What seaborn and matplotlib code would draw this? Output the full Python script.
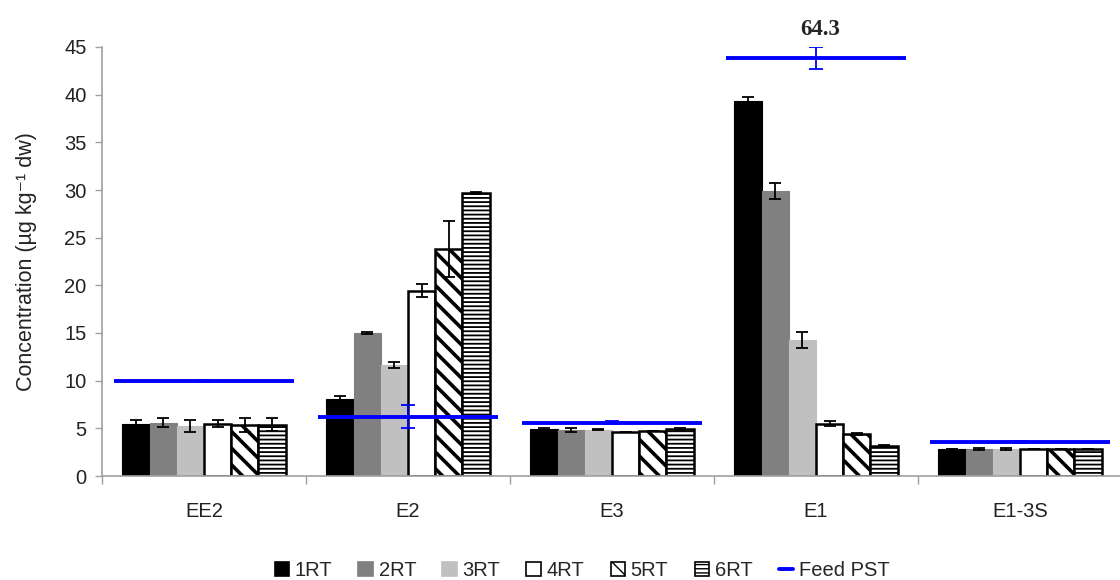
import numpy as np
import pandas as pd
import matplotlib
matplotlib.use("Agg")
import matplotlib.pyplot as plt
from matplotlib.patches import Patch
from matplotlib.lines import Line2D
from matplotlib.ticker import FixedLocator, MultipleLocator
import seaborn as sns

compounds = ["EE2", "E2", "E3", "E1", "E1-3S"]
runs = ["1RT", "2RT", "3RT", "4RT", "5RT", "6RT"]

# mean concentration for each run (1RT..6RT), per compound
ee2 = [5.45, 5.6, 5.25, 5.5, 5.35, 5.4]
e2 = [8.05, 15.0, 11.65, 19.45, 23.8, 29.7]
e3 = [4.9, 4.85, 4.85, 4.6, 4.75, 4.9]
e1 = [39.3, 29.9, 14.3, 5.5, 4.4, 3.15]
e1_3s = [2.85, 2.8, 2.8, 2.85, 2.85, 2.85]

# standard deviations, same layout
ee2_sd = [0.4, 0.5, 0.65, 0.35, 0.7, 0.7]
e2_sd = [0.3, 0.15, 0.35, 0.65, 2.9, 0.1]
e3_sd = [0.1, 0.2, 0.05, 0.0, 0.0, 0.15]
e1_sd = [0.5, 0.85, 0.85, 0.3, 0.1, 0.05]
e1_3s_sd = [0.0, 0.1, 0.1, 0.0, 0.0, 0.0]

# feed (primary settled) concentration per compound
feed = [10.0, 6.2, 5.6, 64.3, 3.55]
feed_sd = [0.1, 1.2, 0.15, 1.15, 0.1]

# values above this are drawn at the top of the axis and labelled
axis_cap = 43.8

means = [ee2, e2, e3, e1, e1_3s]
sds = [ee2_sd, e2_sd, e3_sd, e1_sd, e1_3s_sd]

df = pd.DataFrame(
    [(c, r, means[i][j], sds[i][j])
     for i, c in enumerate(compounds) for j, r in enumerate(runs)],
    columns=["compound", "run", "conc", "sd"],
)

sns.set_theme(style="white")
plt.rcParams["font.family"] = ["Liberation Sans", "DejaVu Sans"]
plt.rcParams["hatch.color"] = "black"

fig = plt.figure(figsize=(11.2, 5.8), dpi=100)
ax = fig.add_axes([102 / 1120, 1 - 476 / 580, 1020 / 1120, 429 / 580])

faces = ["#000000", "#808080", "#C0C0C0", "#FFFFFF", "#FFFFFF", "#FFFFFF"]
edges = ["#000000", "#808080", "#C0C0C0", "#000000", "#000000", "#000000"]
hatches = [None, None, None, None, "\\\\", "----"]
hatch_lw = [1, 1, 1, 1, 2.6, 1.3]
edge_lw = [0.8, 0.8, 0.8, 1.8, 1.8, 1.8]

sns.barplot(data=df, x="compound", y="conc", hue="run", order=compounds,
            hue_order=runs, palette=faces, width=0.8, errorbar=None,
            legend=False, saturation=1, ax=ax)

bar_groups = list(ax.containers)
for k, cont in enumerate(bar_groups):
    for bar in cont.patches:
        bar.set_facecolor(faces[k])
        bar.set_edgecolor(edges[k])
        bar.set_linewidth(edge_lw[k])
        if hatches[k]:
            bar.set_hatch(hatches[k])
            if hasattr(bar, "set_hatch_linewidth"):
                bar.set_hatch_linewidth(hatch_lw[k])
    sub = df[df["run"] == runs[k]].set_index("compound").loc[compounds]
    xs = [b.get_x() + b.get_width() / 2 for b in cont.patches]
    ax.errorbar(xs, sub["conc"].values, yerr=sub["sd"].values, fmt="none",
                ecolor="black", elinewidth=1.3, capsize=4, capthick=1.3,
                zorder=5)

# feed concentration as a horizontal line across each compound group
for i, v in enumerate(feed):
    yv = min(v, axis_cap)
    ax.hlines(yv, i - 0.44, i + 0.44, color="#0000FF", lw=2.8, zorder=6)
    ax.errorbar(i, yv, yerr=feed_sd[i], fmt="none", ecolor="#0000FF",
                elinewidth=1.3, capsize=5, capthick=1.3, zorder=7)
    if v > axis_cap:
        ax.text(i + 0.02, yv + 1.9, f"{v:.1f}", ha="center", va="bottom",
                fontsize=16.5, fontweight="bold", family="Liberation Serif",
                clip_on=False)

ax.set_xlim(-0.5, len(compounds) - 0.5)
ax.set_ylim(0, 45)
ax.yaxis.set_major_locator(MultipleLocator(5))
ax.xaxis.set_minor_locator(FixedLocator(np.arange(-0.5, len(compounds), 1.0)))
ax.tick_params(axis="x", which="major", length=0, labelsize=14.5, pad=19,
               colors="#222222")
ax.tick_params(axis="x", which="minor", length=6, width=1, color="#A0A0A0",
               direction="out", bottom=True)
ax.tick_params(axis="y", length=5, width=1, color="#A0A0A0", direction="out",
               left=True, labelsize=14.5, labelcolor="#222222", pad=6)
for side in ["top", "right"]:
    ax.spines[side].set_visible(False)
for side in ["left", "bottom"]:
    ax.spines[side].set_color("#A0A0A0")
    ax.spines[side].set_linewidth(1.2)
ax.set_xlabel("")
ax.set_ylabel("Concentration (µg kg\u207b\u00b9 dw)", fontsize=15.5,
              color="#222222", labelpad=20)

handles = []
for k, r in enumerate(runs):
    h = Patch(facecolor=faces[k], edgecolor="black" if k >= 3 else faces[k],
              hatch=hatches[k], linewidth=1.2, label=r)
    handles.append(h)
handles.append(Line2D([0], [0], color="#0000FF", lw=2.8, label="Feed PST"))
fig.legend(handles=handles, loc="lower center",
           bbox_to_anchor=(582 / 1120, -0.032), ncol=7, frameon=False,
           fontsize=14.5, handlelength=0.7, handleheight=0.7,
           handletextpad=0.3, columnspacing=1.3)

fig.savefig("out.png", dpi=100)
